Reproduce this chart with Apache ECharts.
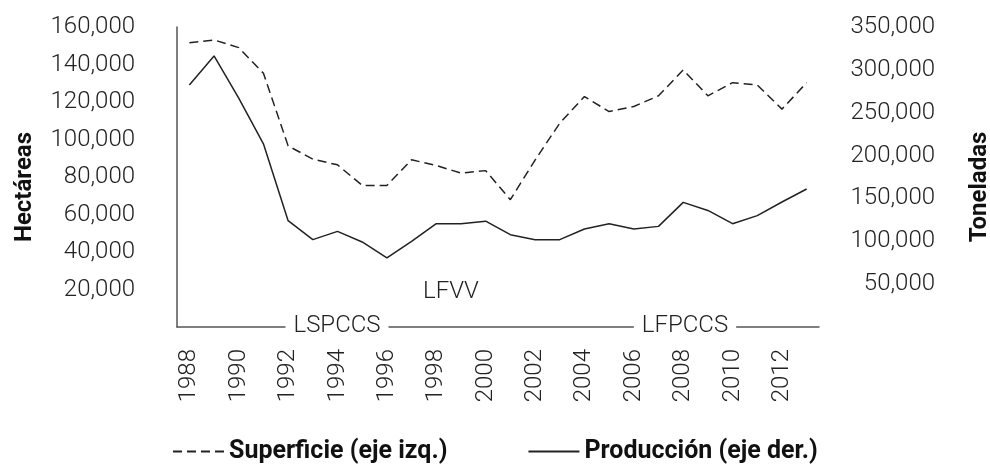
<!DOCTYPE html>
<html>
<head>
<meta charset="utf-8">
<script src="https://cdn.jsdelivr.net/npm/echarts@6/dist/echarts.min.js"></script>
<style>
  html, body { margin: 0; padding: 0; background: #fff; }
  #main { width: 990px; height: 465px; }
</style>
</head>
<body>
<div id="main"></div>
<script>
'use strict';
// años 1988-2013
var years = ['1988','1989','1990','1991','1992','1993','1994','1995','1996','1997','1998','1999','2000',
             '2001','2002','2003','2004','2005','2006','2007','2008','2009','2010','2011','2012','2013'];
// superficie en hectáreas (eje izq.)
var superficie = [151600, 153100, 149000, 135300, 96600, 89500, 86500, 75500, 75500, 89200, 86100, 82100, 83400,
                  67900, 89000, 108700, 122900, 114900, 117600, 123300, 137100, 123300, 130300, 129100, 116200, 130300];
// producción en toneladas (eje der.)
var produccion = [282400, 316200, 267000, 213700, 124000, 101900, 111600, 99200, 80600, 99900, 120500, 120500, 123500,
                  107700, 101900, 101900, 114400, 120500, 114400, 117400, 145400, 136000, 120500, 129900, 145800, 161000];

var FONT = 'Roboto';
var myChart = echarts.init(document.getElementById('main'));

function fmt(v) {
    return v === 0 ? '' : v.toLocaleString('en-US');
}

var option = {
    animation: false,
    backgroundColor: '#fff',
    textStyle: { fontFamily: FONT },
    grid: { left: 177, right: 171, top: 27, bottom: 138, outerBoundsMode: 'none' },
    legend: {
        left: 167,
        top: 434,
        itemWidth: 51,
        itemHeight: 14,
        itemGap: 80,
        itemStyle: { opacity: 0 },
        textStyle: { fontFamily: FONT, fontSize: 25, fontWeight: 'bold', color: '#111' },
        data: ['Superficie (eje izq.)', 'Producción (eje der.)']
    },
    xAxis: {
        type: 'category',
        data: years,
        boundaryGap: true,
        axisLine: { show: true, lineStyle: { color: '#555', width: 1.5 } },
        axisTick: { show: false },
        axisLabel: {
            interval: 1,
            rotate: 90,
            margin: 22,
            fontSize: 24,
            fontWeight: 300,
            color: '#222'
        }
    },
    yAxis: [
        {
            type: 'value',
            min: 0,
            max: 160000,
            interval: 20000,
            name: 'Hectáreas',
            nameLocation: 'middle',
            nameRotate: 90,
            nameGap: 140,
            nameTextStyle: { fontSize: 24, fontWeight: 'bold', color: '#111', padding: [0, 20, 0, 0] },
            axisLine: { show: true, lineStyle: { color: '#555', width: 1.5 } },
            axisTick: { show: false },
            splitLine: { show: false },
            axisLabel: { margin: 42, fontSize: 24, fontWeight: 300, color: '#222', formatter: fmt }
        },
        {
            type: 'value',
            min: 0,
            max: 350000,
            interval: 50000,
            position: 'right',
            name: 'Toneladas',
            nameLocation: 'middle',
            nameRotate: 90,
            nameGap: 149,
            nameTextStyle: { fontSize: 24, fontWeight: 'bold', color: '#111', padding: [0, 20, 0, 0] },
            axisLine: { show: false },
            axisTick: { show: false },
            splitLine: { show: false },
            axisLabel: { margin: 116, align: 'right', fontSize: 24, fontWeight: 300, color: '#222', formatter: fmt }
        }
    ],
    series: [
        {
            name: 'Superficie (eje izq.)',
            type: 'line',
            yAxisIndex: 0,
            data: superficie,
            symbol: 'none',
            lineStyle: { color: '#222', width: 1.5, type: [9, 5] },
            itemStyle: { color: '#222' }
        },
        {
            name: 'Producción (eje der.)',
            type: 'line',
            yAxisIndex: 1,
            data: produccion,
            symbol: 'none',
            lineStyle: { color: '#222', width: 1.5 },
            itemStyle: { color: '#222' }
        }
    ],
    graphic: [
        {
            type: 'text', x: 337, y: 326, z: 100,
            style: { text: 'LSPCCS', align: 'center', verticalAlign: 'middle', font: '300 24px Roboto',
                     fill: '#222', backgroundColor: '#fff', padding: [2, 8] }
        },
        {
            type: 'text', x: 685, y: 326, z: 100,
            style: { text: 'LFPCCS', align: 'center', verticalAlign: 'middle', font: '300 24px Roboto',
                     fill: '#222', backgroundColor: '#fff', padding: [2, 8] }
        },
        {
            type: 'text', x: 451, y: 292, z: 100,
            style: { text: 'LFVV', align: 'center', verticalAlign: 'middle', font: '300 24px Roboto', fill: '#222' }
        }
    ]
};
myChart.setOption(option);
</script>
</body>
</html>
